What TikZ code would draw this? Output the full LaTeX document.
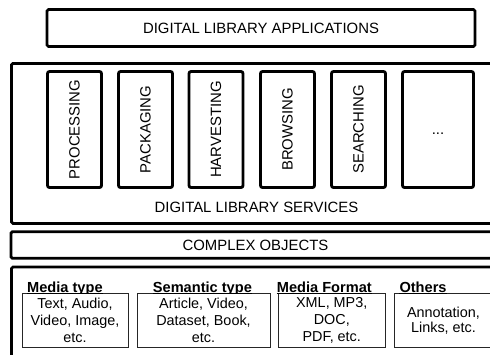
\documentclass[tikz,border=0pt]{standalone}
\usepackage{fontspec}
\setmainfont{Liberation Sans}
\begin{document}
\begin{tikzpicture}[x=1pt,y=-1pt,
  txt/.style={font=\fontsize{14.9}{17}\selectfont},
  layer/.style={draw, line width=2.8pt, rounded corners=1.5pt, inner sep=0pt, txt},
  svc/.style={draw, line width=2.8pt, rounded corners=2pt, inner sep=0pt, txt},
  cat/.style={draw=black!85, line width=1pt, fill=white, inner sep=0pt, align=center,
    font=\fontsize{14.4}{17}\selectfont},
  hdr/.style={font=\fontsize{14.6}{17}\selectfont\bfseries, anchor=base west, inner sep=0pt},
  uline/.style={line width=1.2pt}]
\fill[white] (0,0) rectangle (490,354);
\clip (0,0) rectangle (490,354);

% top layer
\node[layer, minimum width=428pt, minimum height=37pt] (apps) at (261,28)
  {DIGITAL LIBRARY APPLICATIONS};

% services layer
\node[layer, minimum width=490pt, minimum height=160pt] (services) at (256.5,143.4) {};
\node[txt, inner sep=0pt] (svclabel) at (256.5,207.5) {DIGITAL LIBRARY SERVICES};
\foreach \x/\t/\n in {74.5/PROCESSING/proc, 145.5/PACKAGING/pack, 216/HARVESTING/harv,
                      287.5/BROWSING/brow, 358.5/SEARCHING/sear}
  \node[svc, rotate=90, minimum width=116pt, minimum height=54pt] (\n) at (\x,129.5) {\t};
\node[svc, minimum width=71pt, minimum height=116pt, text height=10pt, text depth=0pt]
  (more) at (438,129.5) {...};

% complex objects layer
\node[layer, minimum width=489pt, minimum height=26.6pt] (complex) at (255.5,245)
  {COMPLEX OBJECTS};

% object properties layer
\node[layer, minimum width=490pt, minimum height=120pt] (objects) at (256.5,327) {};

% categories: header, box, underline
\node[hdr] (hmedia) at (27,292) {Media type};
\node[cat, minimum width=106pt, minimum height=53.5pt] (media) at (75,320.25)
  {Text, Audio,\\Video, Image,\\etc.};
\draw[uline] ([yshift=-1.3pt]hmedia.base west) -- ([yshift=-1.3pt]hmedia.base east);

\node[hdr] (hsem) at (152.7,292) {Semantic type};
\node[cat, minimum width=133pt, minimum height=53.5pt] (sem) at (203.5,320.25)
  {Article, Video,\\Dataset, Book,\\etc.};
\draw[uline] ([yshift=-1.3pt]hsem.base west) -- ([yshift=-1.3pt]hsem.base east);

\node[hdr] (hfmt) at (276.7,292) {Media Format};
\node[cat, minimum width=106.5pt, minimum height=53.5pt] (fmt) at (331.75,320.25)
  {XML, MP3,\\DOC,\\PDF, etc.};
\draw[uline] ([yshift=-1.3pt]hfmt.base west) -- ([yshift=-1.3pt]hfmt.base east);

\node[hdr] (hoth) at (399.3,292) {Others};
\node[cat, minimum width=99pt, minimum height=53.5pt, font=\fontsize{14.4}{15}\selectfont]
  (oth) at (443.5,320.25) {Annotation,\\Links, etc.};
\draw[uline] ([yshift=-1.3pt]hoth.base west) -- ([yshift=-1.3pt]hoth.base east);
\end{tikzpicture}
\end{document}
